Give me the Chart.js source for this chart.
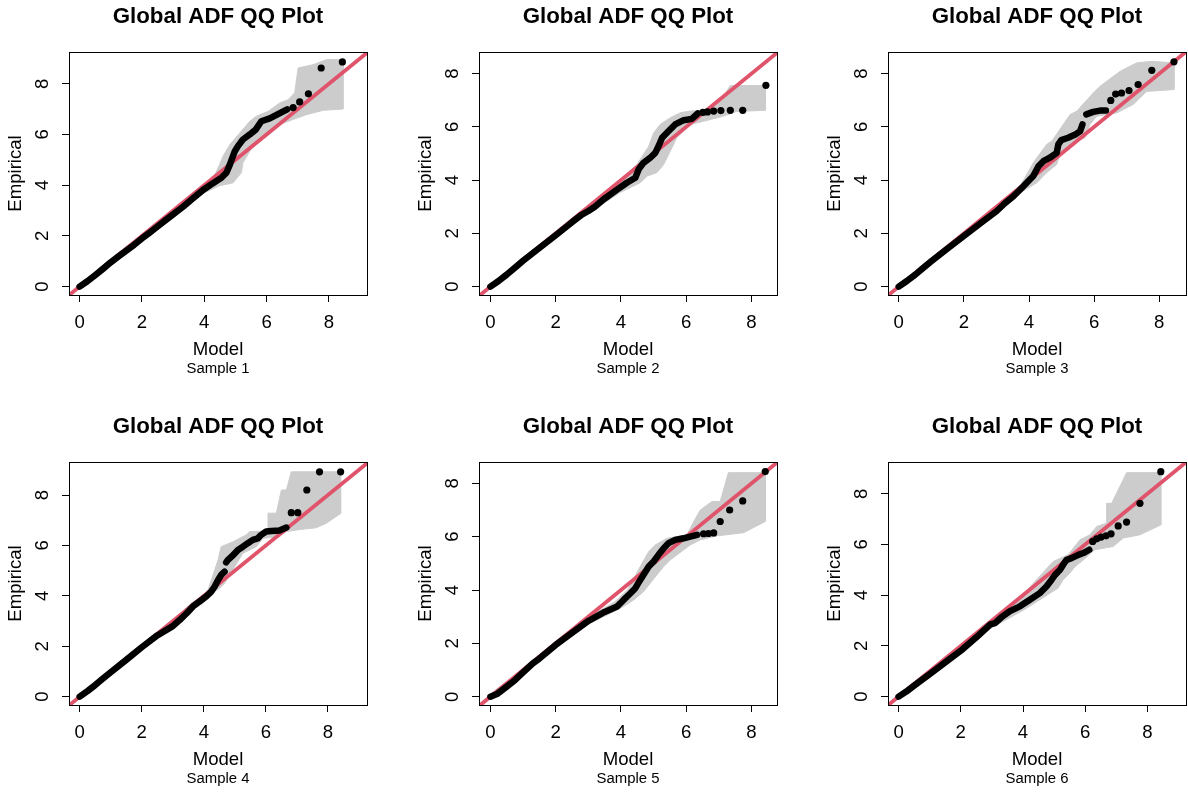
<!DOCTYPE html>
<html>
<head>
<meta charset="utf-8">
<script src="https://cdn.jsdelivr.net/npm/chart.js@4.4.0/dist/chart.umd.min.js"></script>
<style>
  html, body { margin: 0; padding: 0; background: #fff; }
  body { width: 1188px; height: 792px; position: relative; overflow: hidden; }
  canvas { position: absolute; }
</style>
</head>
<body>
<script>
// ---- data ----
const tickValues = [0, 2, 4, 6, 8];
const titleText = 'Global ADF QQ Plot';
const xLabel = 'Model';
const yLabel = 'Empirical';
const sampleLabels = ['Sample 1', 'Sample 2', 'Sample 3', 'Sample 4', 'Sample 5', 'Sample 6'];
const refLine = [[-1, -1], [10, 10]];

const xLimits = [[-0.34, 9.22], [-0.35, 8.78], [-0.33, 8.82], [-0.345, 9.26], [-0.35, 8.78], [-0.34, 9.24]];
const yLimits = [[-0.33, 9.25], [-0.315, 8.81], [-0.315, 8.81], [-0.33, 9.31], [-0.31, 8.8], [-0.33, 9.25]];

// Sample 1
const dense1 = [[0, 0], [0.25, 0.21], [0.5, 0.45], [0.75, 0.7], [1.0, 0.96], [1.25, 1.19], [1.5, 1.42],
  [1.75, 1.65], [2.0, 1.9], [2.25, 2.13], [2.5, 2.37], [2.75, 2.61], [3.0, 2.85], [3.32, 3.15], [3.64, 3.48],
  [3.96, 3.81], [4.28, 4.08], [4.55, 4.29], [4.71, 4.49], [4.82, 4.81], [4.9, 5.08], [4.98, 5.34], [5.08, 5.54],
  [5.24, 5.8], [5.46, 6.0], [5.65, 6.19], [5.83, 6.52], [6.1, 6.63], [6.38, 6.81], [6.66, 6.99]];
const tail1 = [[6.85, 7.06], [7.06, 7.28], [7.34, 7.6], [7.75, 8.62], [8.43, 8.86]];
const band1 = [[0, 0.1], [1, 1.1], [2, 2.05], [3, 3.0], [3.8, 3.85], [4.3, 4.3], [4.49, 4.81], [4.6, 5.14],
  [4.82, 5.6], [5.1, 6.0], [5.46, 6.52], [5.67, 6.72], [6.05, 6.91], [6.42, 7.24], [6.69, 7.37], [6.9, 7.64],
  [7.01, 8.62], [7.49, 8.75], [7.92, 8.95], [8.45, 8.95],
  [8.45, 7.0], [7.81, 6.95], [7.28, 6.78], [6.85, 6.59], [6.42, 6.39], [5.94, 5.87], [5.56, 5.54], [5.24, 4.88],
  [5.19, 4.49], [4.92, 4.09], [4.49, 3.98], [4.0, 3.7], [3, 2.78], [2, 1.83], [1, 0.9], [0, -0.08]];

// Sample 2
const dense2 = [[0, 0], [0.25, 0.21], [0.5, 0.45], [0.75, 0.71], [1.0, 0.97], [1.5, 1.45], [2.0, 1.93],
  [2.5, 2.42], [2.8, 2.7], [3.0, 2.84], [3.2, 3.0], [3.47, 3.28], [3.88, 3.64], [4.18, 3.9], [4.44, 4.09],
  [4.54, 4.4], [4.69, 4.65], [4.9, 4.84], [5.05, 5.02], [5.15, 5.27], [5.26, 5.59], [5.46, 5.84], [5.66, 6.09],
  [5.92, 6.25], [6.17, 6.3], [6.35, 6.5]];
const tail2 = [[6.51, 6.54], [6.65, 6.56], [6.84, 6.59], [7.06, 6.61], [7.35, 6.62], [7.73, 6.62], [8.44, 7.56]];
const band2 = [[0, 0.1], [1, 1.1], [2, 2.06], [3, 3.0], [4, 3.98], [4.49, 4.59], [4.85, 5.27], [5.0, 5.77],
  [5.2, 6.09], [5.51, 6.34], [5.82, 6.53], [6.12, 6.59], [6.6, 6.62], [7.14, 7.15], [7.35, 7.55], [8.42, 7.55],
  [8.42, 6.62], [7.55, 6.58], [7.14, 6.4], [6.53, 6.21], [6.12, 6.09], [5.71, 5.59], [5.46, 4.96], [5.31, 4.59],
  [5.1, 4.28], [4.8, 4.15], [4.59, 3.9], [4.0, 3.55], [3, 2.75], [2, 1.86], [1, 0.9], [0, -0.08]];

// Sample 3
const dense3 = [[0, 0], [0.25, 0.21], [0.5, 0.44], [0.75, 0.7], [1.0, 0.95], [1.5, 1.43], [2.0, 1.9],
  [2.5, 2.37], [3.0, 2.83], [3.26, 3.13], [3.52, 3.39], [3.73, 3.65], [3.93, 3.9], [4.13, 4.15], [4.29, 4.52],
  [4.44, 4.71], [4.64, 4.84], [4.85, 5.02], [4.9, 5.34], [4.99, 5.5], [5.2, 5.59], [5.42, 5.71], [5.57, 5.84],
  [5.64, 6.09], [5.7, null], [5.76, 6.47], [5.97, 6.56], [6.18, 6.61], [6.36, 6.61]];
const tail3 = [[6.51, 6.99], [6.66, 7.23], [6.84, 7.27], [7.07, 7.36], [7.35, 7.59], [7.77, 8.12], [8.45, 8.44]];
const band3 = [[0, 0.1], [1, 1.08], [2, 2.05], [3, 3.02], [3.7, 3.72], [4.13, 4.65], [4.54, 5.34], [4.7, 5.46],
  [5.26, 6.46], [5.47, 6.59], [5.97, 7.27], [6.18, 7.52], [6.79, 8.08], [7.3, 8.4], [7.77, 8.46], [8.45, 8.4],
  [8.45, 7.4], [7.61, 7.33], [7.2, 6.84], [6.69, 6.52], [6.08, 6.4], [5.87, 6.09], [5.72, 5.59], [5.36, 5.4],
  [4.95, 4.96], [4.85, 4.59], [4.54, 4.28], [4.24, 3.9], [3.7, 3.5], [3, 2.75], [2, 1.84], [1, 0.9], [0, -0.08]];

// Sample 4
const dense4 = [[0, 0], [0.25, 0.22], [0.5, 0.46], [0.75, 0.72], [1.0, 0.97], [1.5, 1.46], [2.0, 1.96],
  [2.5, 2.43], [3.0, 2.8], [3.22, 3.04], [3.44, 3.3], [3.65, 3.58], [3.87, 3.78], [4.08, 3.98], [4.24, 4.17],
  [4.35, 4.37], [4.46, 4.63], [4.56, 4.83], [4.67, 4.96], [4.7, null], [4.72, 5.33], [4.78, 5.43], [4.95, 5.62],
  [5.1, 5.82], [5.26, 5.95], [5.42, 6.09], [5.58, 6.22], [5.74, 6.28], [5.85, 6.42], [6.01, 6.55], [6.18, 6.57],
  [6.44, 6.59], [6.66, 6.71]];
const tail4 = [[6.82, 7.3], [7.03, 7.3], [7.32, 8.2], [7.73, 8.92], [8.41, 8.92]];
const band4 = [[0, 0.1], [1, 1.1], [2, 2.08], [3, 3.0], [3.6, 3.72], [4.1, 4.1], [4.46, 5.43], [4.56, 5.95],
  [4.95, 6.15], [5.37, 6.42], [5.48, 6.55], [6.07, 6.57], [6.07, 7.28], [6.34, 7.28], [6.5, 8.2], [6.66, 8.2],
  [6.82, 8.92], [8.41, 8.92],
  [8.41, 7.27], [7.95, 6.88], [7.62, 6.7], [7.09, 6.63], [6.66, 6.55], [6.44, 6.35], [5.9, 6.28], [5.69, 5.95],
  [5.26, 5.69], [4.83, 4.83], [4.67, 4.5], [4.51, 4.3], [4.24, 4.1], [3.6, 3.4], [3, 2.7], [2, 1.88], [1, 0.9],
  [0, -0.08]];

// Sample 5
const dense5 = [[0, 0], [0.2, 0.1], [0.5, 0.38], [0.75, 0.62], [1.0, 0.91], [1.3, 1.25], [1.5, 1.43],
  [2.0, 1.94], [2.5, 2.39], [3.0, 2.84], [3.5, 3.18], [3.88, 3.38], [4.08, 3.63], [4.29, 3.88], [4.44, 4.07],
  [4.59, 4.38], [4.72, 4.63], [4.85, 4.88], [5.0, 5.07], [5.15, 5.32], [5.31, 5.57], [5.46, 5.76], [5.66, 5.88],
  [5.92, 5.94], [6.12, 6.0], [6.33, 6.07]];
const tail5 = [[6.53, 6.11], [6.68, 6.12], [6.84, 6.14], [7.04, 6.57], [7.33, 7.0], [7.73, 7.34], [8.42, 8.44]];
const band5 = [[0, 0.1], [1, 1.05], [2, 2.08], [3, 2.98], [3.8, 3.55], [4.2, 4.0], [4.59, 4.88], [4.85, 5.44],
  [5.05, 5.69], [5.41, 5.94], [6.02, 6.07], [6.2, 6.5], [6.43, 7.0], [6.79, 7.32], [7.04, 7.32], [7.29, 8.4],
  [8.42, 8.4],
  [8.42, 6.57], [7.76, 6.15], [6.94, 6.03], [6.43, 5.88], [6.12, 5.69], [5.51, 5.13], [5.31, 4.88], [5.1, 4.57],
  [4.9, 4.26], [4.69, 3.94], [4.39, 3.63], [4.08, 3.38], [3.8, 3.2], [3, 2.72], [2, 1.85], [1, 0.82], [0, -0.08]];

// Sample 6
const dense6 = [[0, 0], [0.25, 0.2], [0.5, 0.43], [0.75, 0.66], [1.0, 0.89], [1.5, 1.35], [2.0, 1.81],
  [2.5, 2.34], [2.95, 2.85], [3.1, 2.9], [3.3, 3.12], [3.58, 3.37], [3.9, 3.56], [4.22, 3.82], [4.54, 4.08],
  [4.76, 4.35], [4.92, 4.61], [5.03, 4.8], [5.19, 5.0], [5.29, 5.2], [5.4, 5.39], [5.56, 5.46], [5.78, 5.59],
  [5.94, 5.66], [6.13, 5.79]];
const tail6 = [[6.24, 6.12], [6.37, 6.22], [6.51, 6.29], [6.67, 6.34], [6.83, 6.42], [7.06, 6.73], [7.33, 6.88],
  [7.76, 7.62], [8.43, 8.87]];
const band6 = [[0, 0.1], [1, 1.05], [2, 2.02], [3, 3.0], [4, 4.02], [4.97, 5.33], [5.08, 5.39], [5.45, 5.59],
  [5.83, 6.18], [6.15, 6.38], [6.37, 6.71], [6.69, 6.84], [6.69, 7.62], [6.85, 7.62], [7.33, 8.83], [8.43, 8.83],
  [8.43, 6.77], [7.76, 6.38], [7.22, 6.25], [6.9, 5.92], [6.31, 5.79], [5.94, 5.39], [5.67, 5.12], [5.51, 4.87],
  [5.29, 4.61], [5.13, 4.28], [4.87, 4.08], [4.54, 3.82], [4, 3.4], [3, 2.72], [2, 1.7], [1, 0.8], [0, -0.08]];

const denseSets = [dense1, dense2, dense3, dense4, dense5, dense6];
const tailSets = [tail1, tail2, tail3, tail4, tail5, tail6];
const bandSets = [band1, band2, band3, band4, band5, band6];

// ---- layout ----
const boxPos = [[69, 52], [479, 52], [888, 52], [69, 462], [479, 462], [888, 462]];
const boxW = 298, boxH = 243;
const padL = 72, padT = 56, padR = 12, padB = 96;
const FONT = '"Liberation Sans", Arial, Helvetica, sans-serif';

const toXY = arr => arr.map(p => ({x: p[0], y: p[1]}));

// R style box, tick labels and titles
const rFrame = {
    id: 'rFrame',
    afterDraw(chart, args, opts) {
        const ctx = chart.ctx;
        const {left, top, right, bottom} = chart.chartArea;
        const xs = chart.scales.x, ys = chart.scales.y;
        const cx = (left + right) / 2, cy = (top + bottom) / 2;
        ctx.save();
        ctx.strokeStyle = '#000';
        ctx.lineWidth = 1;
        ctx.strokeRect(Math.round(left) + 0.5, Math.round(top) + 0.5, Math.round(right - left), Math.round(bottom - top));

        ctx.fillStyle = '#000';
        ctx.textAlign = 'center';
        ctx.textBaseline = 'alphabetic';
        ctx.font = '18.6px ' + FONT;
        xs.ticks.forEach(t => {
            ctx.fillText(String(t.value), xs.getPixelForValue(t.value), bottom + 32.5);
        });
        ys.ticks.forEach(t => {
            ctx.save();
            ctx.translate(left - 21, ys.getPixelForValue(t.value));
            ctx.rotate(-Math.PI / 2);
            ctx.fillText(String(t.value), 0, 0);
            ctx.restore();
        });
        ctx.fillText(xLabel, cx, bottom + 60.3);
        ctx.save();
        ctx.translate(left - 48.5, cy);
        ctx.rotate(-Math.PI / 2);
        ctx.fillText(yLabel, 0, 0);
        ctx.restore();

        ctx.font = '14.9px ' + FONT;
        ctx.fillText(opts.sub, cx, bottom + 78);

        ctx.font = 'bold 22.3px ' + FONT;
        ctx.fillText(titleText, cx, top - 29);
        ctx.restore();
    }
};

boxPos.forEach((pos, i) => {
    const canvas = document.createElement('canvas');
    canvas.width = padL + boxW + padR;
    canvas.height = padT + boxH + padB;
    canvas.style.left = (pos[0] - padL) + 'px';
    canvas.style.top = (pos[1] - padT) + 'px';
    document.body.appendChild(canvas);

    const axisGrid = {
        drawOnChartArea: false,
        drawTicks: true,
        tickLength: 7,
        color: '#000',
        lineWidth: 1
    };

    new Chart(canvas.getContext('2d'), {
        type: 'scatter',
        data: {
            datasets: [
                {
                    label: 'tail',
                    data: toXY(tailSets[i]),
                    pointRadius: 3.6,
                    pointBackgroundColor: '#000',
                    pointBorderWidth: 0,
                    pointBorderColor: '#000',
                    order: 0
                },
                {
                    label: 'quantiles',
                    data: toXY(denseSets[i]),
                    showLine: true,
                    spanGaps: false,
                    borderColor: '#000',
                    borderWidth: 6.5,
                    borderCapStyle: 'round',
                    borderJoinStyle: 'round',
                    pointRadius: 0,
                    order: 1
                },
                {
                    label: 'y = x',
                    data: toXY(refLine),
                    showLine: true,
                    borderColor: '#DF536B',
                    borderWidth: 3.8,
                    pointRadius: 0,
                    clip: 0,
                    order: 2
                },
                {
                    label: 'envelope',
                    data: toXY(bandSets[i]),
                    showLine: true,
                    fill: 'shape',
                    backgroundColor: '#CCCCCC',
                    borderColor: '#CCCCCC',
                    borderWidth: 1,
                    pointRadius: 0,
                    order: 3
                }
            ]
        },
        options: {
            responsive: false,
            animation: false,
            devicePixelRatio: 1,
            events: [],
            layout: {
                padding: {left: padL, top: padT, right: padR, bottom: padB}
            },
            scales: {
                x: {
                    type: 'linear',
                    min: xLimits[i][0],
                    max: xLimits[i][1],
                    afterFit: s => { s.height = 0; },
                    afterBuildTicks: s => { s.ticks = tickValues.map(v => ({value: v})); },
                    ticks: {display: false},
                    grid: axisGrid,
                    border: {display: false}
                },
                y: {
                    type: 'linear',
                    min: yLimits[i][0],
                    max: yLimits[i][1],
                    afterFit: s => { s.width = 0; },
                    afterBuildTicks: s => { s.ticks = tickValues.map(v => ({value: v})); },
                    ticks: {display: false},
                    grid: axisGrid,
                    border: {display: false}
                }
            },
            plugins: {
                legend: {display: false},
                tooltip: {enabled: false},
                rFrame: {sub: sampleLabels[i]}
            }
        },
        plugins: [rFrame]
    });
});
</script>
</body>
</html>
